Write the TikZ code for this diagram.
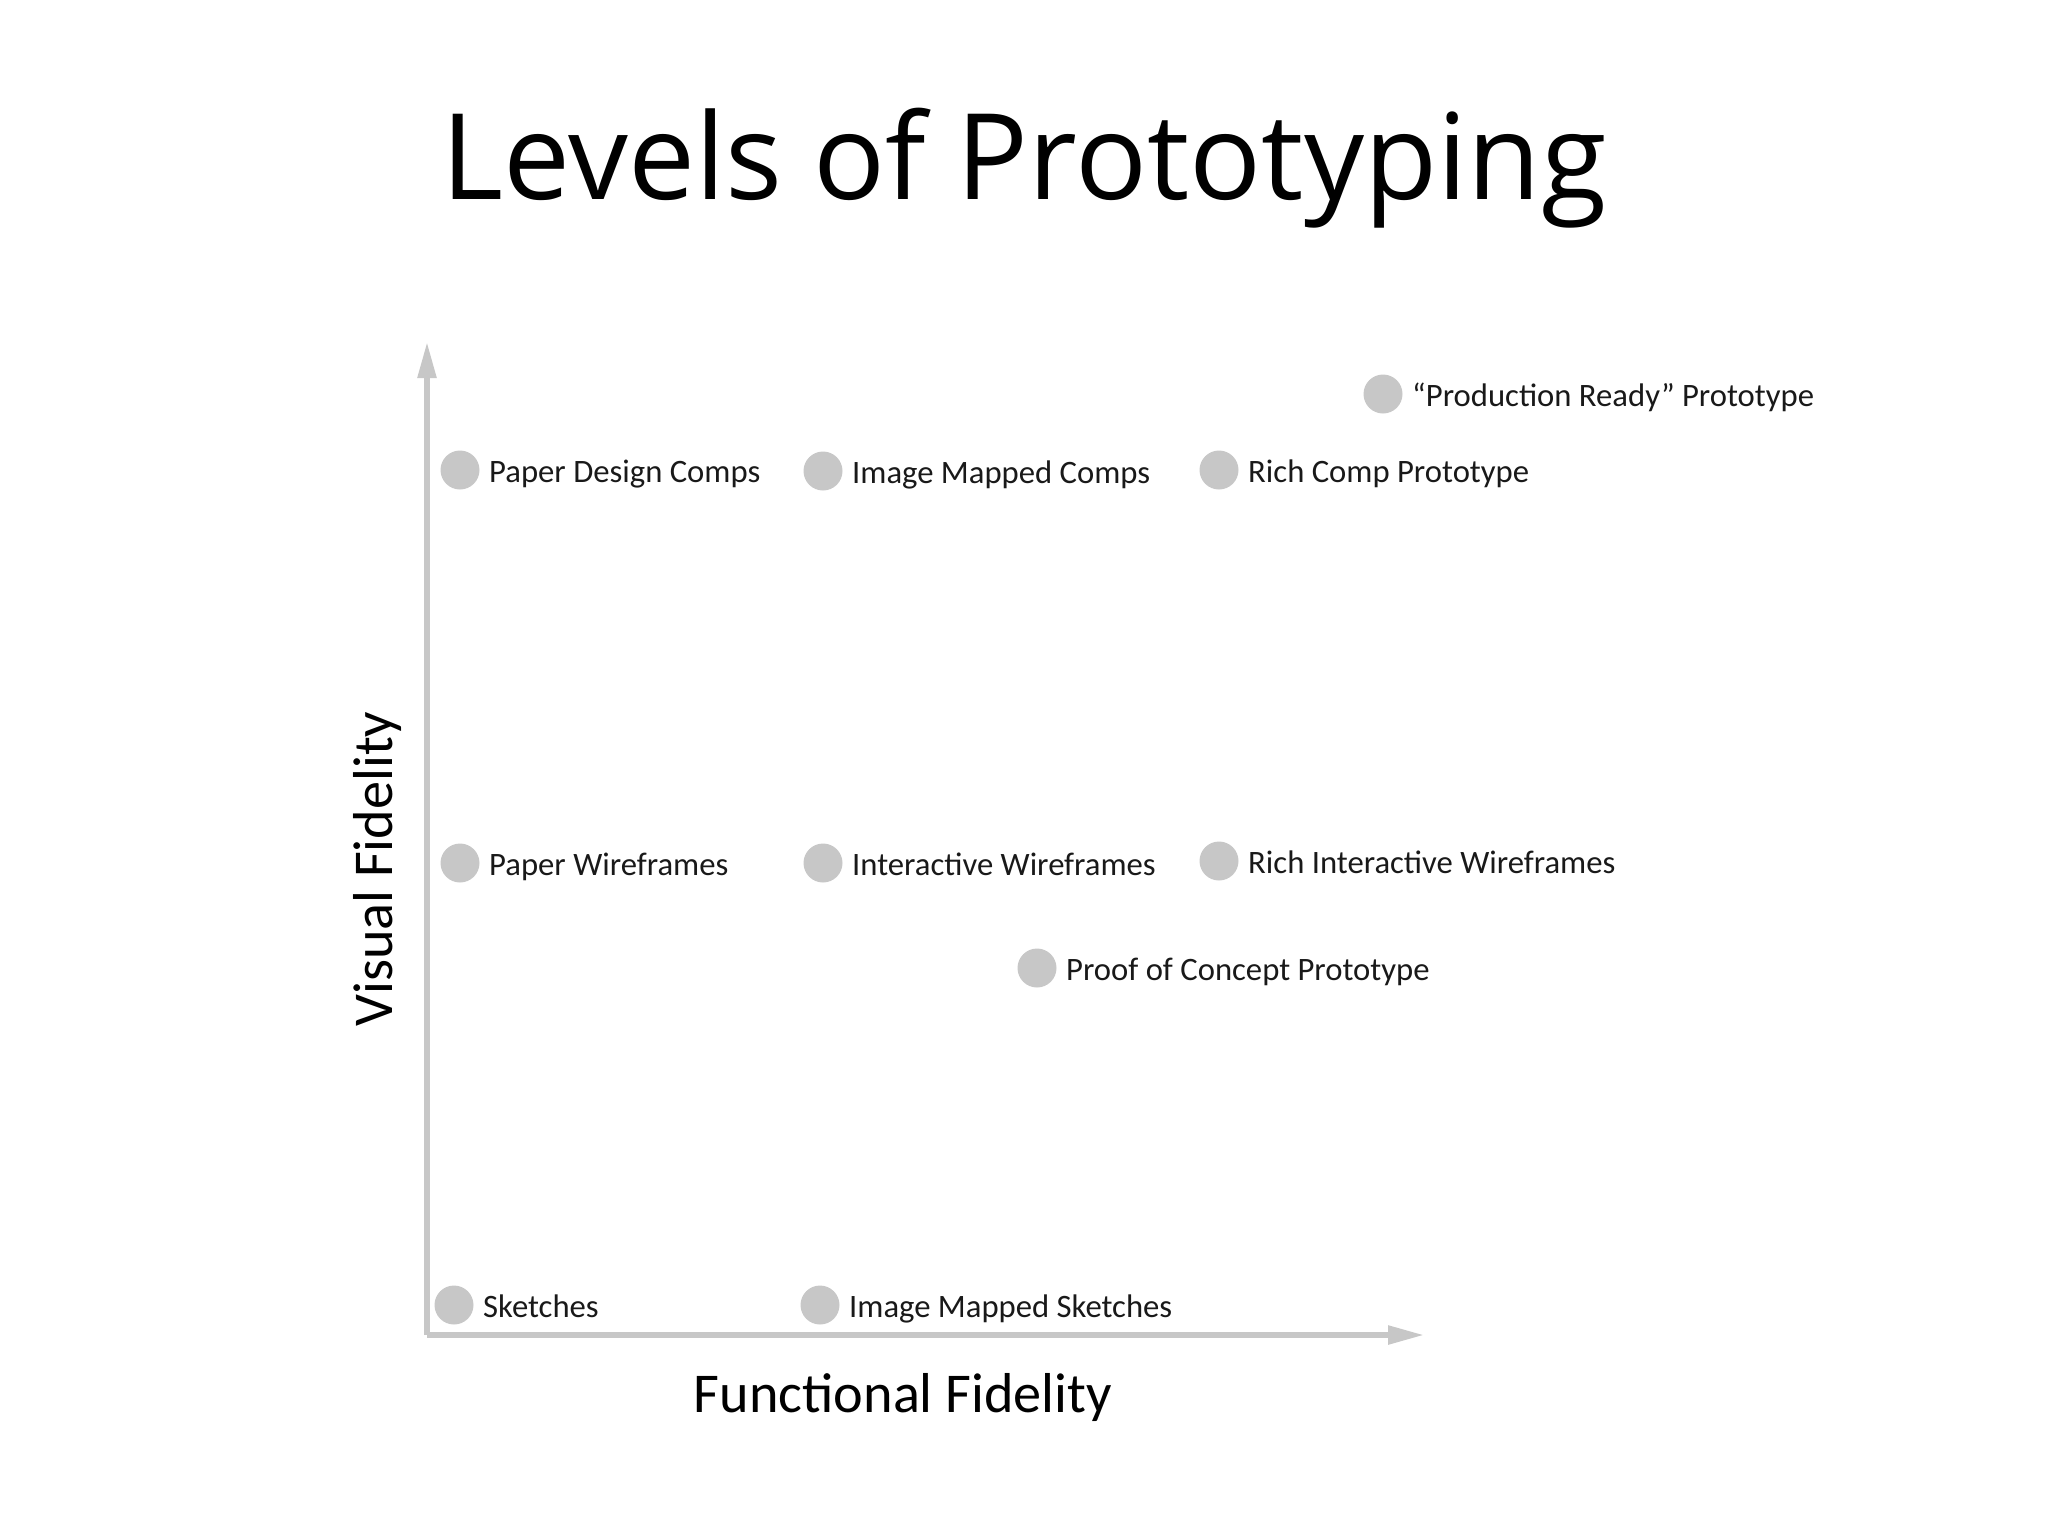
\documentclass[tikz,border=0pt]{standalone}
\usepackage{fontspec}
\setmainfont{Carlito}
\newfontfamily\titlefont{Open Sans}
\usetikzlibrary{arrows.meta, positioning}

\tikzset{
	dot/.style={circle, fill=black!22, minimum size=0.78cm, inner sep=0pt},
	lbl/.style={anchor=base west, inner sep=0pt, xshift=0.18cm, yshift=-0.24cm, text=black!90, font=\fontsize{18.6}{22}\selectfont},
	axis/.style={draw=black!22, line width=0.11cm, -{Triangle[length=0.72cm, width=0.36cm]}},
	axislabel/.style={anchor=base, inner sep=0pt, text=black, font=\fontsize{32}{38}\selectfont},
}

\begin{document}
\begin{tikzpicture}[x=0.02cm, y=-0.02cm]
				\useasboundingbox (0,0) rectangle (2048,1536);
				\node[anchor=base, inner sep=0pt, font=\titlefont\fontsize{68}{82}\selectfont] (title) at (1024,199) {Levels of Prototyping};
				% axes
				\coordinate (origin) at (427,1335);
				\coordinate (ytip) at (427,342);
				\coordinate (xtip) at (1424,1335);
				\draw[axis] (origin) -- (ytip);
				\draw[axis] (origin) -- (xtip);
				\node[axislabel] (xlabel) at (903,1412) {Functional Fidelity};
				\node[axislabel, rotate=90] (ylabel) at (392,869) {Visual Fidelity};
				% top row
				\node[dot] (prod) at (1383,394) {};
				\node[lbl] at (prod.east) {``Production Ready'' Prototype};
				\node[dot] (pdc) at (460,470) {};
				\node[lbl] at (pdc.east) {Paper Design Comps};
				\node[dot] (imc) at (823,471) {};
				\node[lbl] at (imc.east) {Image Mapped Comps};
				\node[dot] (rcp) at (1219,470) {};
				\node[lbl] at (rcp.east) {Rich Comp Prototype};
				% middle row
				\node[dot] (pw) at (460,863) {};
				\node[lbl] at (pw.east) {Paper Wireframes};
				\node[dot] (iw) at (823,863) {};
				\node[lbl] at (iw.east) {Interactive Wireframes};
				\node[dot] (riw) at (1219,861) {};
				\node[lbl] at (riw.east) {Rich Interactive Wireframes};
				\node[dot] (poc) at (1037,968) {};
				\node[lbl] at (poc.east) {Proof of Concept Prototype};
				% bottom row
				\node[dot] (sk) at (454,1305) {};
				\node[lbl] at (sk.east) {Sketches};
				\node[dot] (ims) at (820,1305) {};
				\node[lbl] at (ims.east) {Image Mapped Sketches};
			\end{tikzpicture}
\end{document}
